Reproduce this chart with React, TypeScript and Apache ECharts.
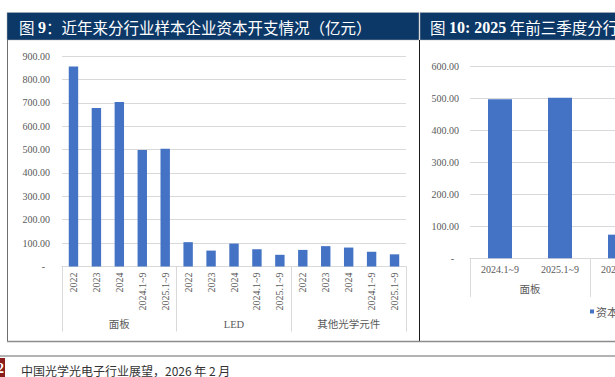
import React, { useEffect, useRef } from "react";
import * as echarts from "echarts";

// ---- data ----
const groups = ["面板", "LED", "其他光学元件"];
const periods = ["2022", "2023", "2024", "2024.1~9", "2025.1~9"];
const panelValues = [855, 678, 703, 498, 503];
const ledValues = [104, 68, 98, 74, 50];
const opticsValues = [71, 87, 81, 63, 52];
const ytdPeriods = ["2024.1~9", "2025.1~9"];
const seriesName = "资本开支";
const leftTitle = "{a|图 }{b|9}{a|：近年来分行业样本企业资本开支情况（亿元）}";
const rightTitle = "{a|图 }{b|10: 2025}{a| 年前三季度分行业样本企业资本开支情况（亿元）}";
const footerText = "中国光学光电子行业展望，2026 年 2 月";
const pageNo = "2";

const leftCats = groups.flatMap(() => periods);
const leftVals = [...panelValues, ...ledValues, ...opticsValues];
const rightCats = groups.flatMap(() => ytdPeriods);
const rightVals = [panelValues, ledValues, opticsValues].flatMap((a) => a.slice(3));

const serif = "'Liberation Serif', 'Times New Roman', 'Noto Sans CJK SC', serif";
const cjk = "'Noto Sans CJK SC', 'Liberation Serif', sans-serif";
const grey = "#595959";
const lineGrey = "#d9d9d9";
const navy = "#0c3868";
const barColor = "#4472C4";

const yLabel = (margin: number) => ({
  margin,
  fontSize: 10,
  color: grey,
  fontFamily: serif,
  formatter: (v: number) => (v === 0 ? "{z|-}" : v.toFixed(2)),
  rich: { z: { padding: [0, 5, 0, 0], fontSize: 10, color: grey, fontFamily: serif } },
});

export default function App() {
  const ref = useRef<HTMLDivElement>(null);
  useEffect(() => {
    if (!ref.current) return;
    const chart = echarts.init(ref.current, undefined, { renderer: "svg" });
    chart.setOption({
      animation: false,
      backgroundColor: "#fff",
      grid: [
        { left: 62, width: 344, top: 56, height: 210.5, outerBoundsMode: "none", containLabel: false },
        { left: 470, width: 360, top: 66.7, height: 191.6, outerBoundsMode: "none", containLabel: false },
      ],
      yAxis: [
        {
          gridIndex: 0, type: "value", min: 0, max: 900, interval: 100,
          axisLine: { show: false }, axisTick: { show: false },
          splitLine: { lineStyle: { color: lineGrey } },
          axisLabel: yLabel(12),
        },
        {
          gridIndex: 1, type: "value", min: 0, max: 600, interval: 100,
          axisLine: { show: false }, axisTick: { show: false },
          splitLine: { lineStyle: { color: lineGrey } },
          axisLabel: yLabel(11),
        },
      ],
      xAxis: [
        {
          gridIndex: 0, type: "category", data: leftCats,
          axisLine: { lineStyle: { color: lineGrey } },
          axisTick: { show: false },
          axisLabel: { rotate: 90, margin: 6, fontSize: 10, color: grey, fontFamily: serif, interval: 0 },
        },
        {
          gridIndex: 0, type: "category", data: groups, position: "bottom",
          axisLine: { show: false },
          axisTick: { show: true, length: 65, lineStyle: { color: lineGrey } },
          axisLabel: { margin: 53, fontSize: 10.5, color: grey, fontFamily: serif, interval: 0 },
        },
        {
          gridIndex: 1, type: "category", data: rightCats,
          axisLine: { lineStyle: { color: lineGrey } },
          axisTick: { show: false },
          axisLabel: { margin: 6, fontSize: 10, color: grey, fontFamily: serif, interval: 0 },
        },
        {
          gridIndex: 1, type: "category", data: groups, position: "bottom",
          axisLine: { show: false },
          axisTick: { show: true, length: 38.5, lineStyle: { color: lineGrey } },
          axisLabel: { margin: 26, fontSize: 10.5, color: grey, fontFamily: serif, interval: 0 },
        },
      ],
      legend: {
        data: [seriesName],
        left: 590, top: 306, padding: 0,
        icon: "rect", itemWidth: 4, itemHeight: 4,
        textStyle: { fontSize: 11, color: grey, fontFamily: cjk, padding: [0, 0, 0, -3] },
      },
      series: [
        {
          type: "bar", name: "left", xAxisIndex: 0, yAxisIndex: 0,
          data: leftVals, barWidth: "41%", itemStyle: { color: barColor },
        },
        {
          type: "bar", name: seriesName, xAxisIndex: 2, yAxisIndex: 1,
          data: rightVals, barWidth: "40%", itemStyle: { color: barColor },
        },
      ],
      graphic: [
        { type: "rect", shape: { x: 7, y: 12.5, width: 412, height: 27.5 }, style: { fill: navy, stroke: "#b0b0b0", lineWidth: 0.5 } },
        { type: "rect", shape: { x: 420, y: 12.5, width: 200, height: 27.5 }, style: { fill: navy, stroke: "#b0b0b0", lineWidth: 0.5 } },
        {
          type: "text", x: 19, y: 27,
          style: {
            text: leftTitle, fill: "#fff", verticalAlign: "middle",
            rich: {
              a: { fill: "#fff", fontSize: 15.5, fontFamily: cjk },
              b: { fill: "#fff", fontSize: 16, fontFamily: serif, fontWeight: "bold" },
            },
          },
        },
        {
          type: "text", x: 430, y: 27,
          style: {
            text: rightTitle, fill: "#fff", verticalAlign: "middle",
            rich: {
              a: { fill: "#fff", fontSize: 15.5, fontFamily: cjk },
              b: { fill: "#fff", fontSize: 16, fontFamily: serif, fontWeight: "bold" },
            },
          },
        },
        { type: "line", shape: { x1: 7.5, y1: 40, x2: 7.5, y2: 341 }, style: { stroke: "#6e6e6e", lineWidth: 1 } },
        { type: "line", shape: { x1: 419.5, y1: 40, x2: 419.5, y2: 341 }, style: { stroke: "#1a1a1a", lineWidth: 1 } },
        { type: "line", shape: { x1: 7, y1: 341.5, x2: 615, y2: 341.5 }, style: { stroke: "#8c8c8c", lineWidth: 1.5 } },
        { type: "line", shape: { x1: 0, y1: 356, x2: 615, y2: 356 }, style: { stroke: "#9a9a9a", lineWidth: 1.5 } },
        { type: "rect", shape: { x: 0, y: 358, width: 5, height: 19 }, style: { fill: "#8b1c1c" } },
        { type: "text", x: -3, y: 368, style: { text: pageNo, fill: "#fff", fontSize: 14, fontWeight: "bold", fontFamily: serif, verticalAlign: "middle" } },
        { type: "text", x: 21, y: 370, style: { text: footerText, fill: "#333", fontSize: 12, fontFamily: cjk, verticalAlign: "middle" } },
      ],
    });
    return () => chart.dispose();
  }, []);
  return <div ref={ref} style={{ position: "fixed", left: 0, top: 0, width: 615, height: 377 }} />;
}
